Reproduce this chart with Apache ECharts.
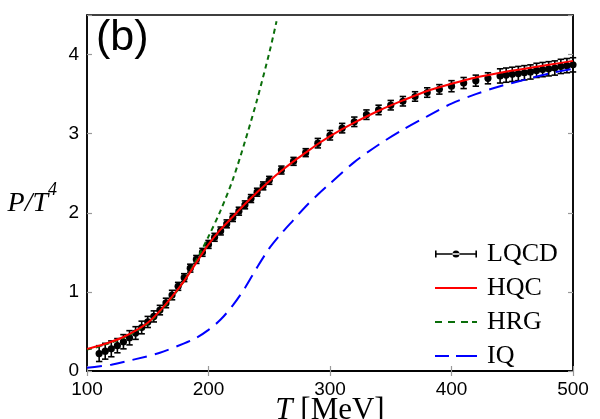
<!DOCTYPE html>
<html>
<head>
<meta charset="utf-8">
<script src="https://cdn.jsdelivr.net/npm/echarts@6/dist/echarts.min.js"></script>
<style>html,body{margin:0;padding:0;background:#fff}#c{width:600px;height:419px}</style>
</head>
<body>
<div id="c"></div>
<script>
// LQCD data (T in MeV, P/T^4, error)
const lqcdT = [110,115,120,125,130,135,140,145,150,155,160,165,170,175,180,185,190,195,200,205,210,215,220,225,230,235,240,245,250,260,270,280,290,300,310,320,330,340,350,360,370,380,390,400,410,420,430,440,445,450,455,460,465,470,475,480,485,490,495,500];
const lqcdP = [0.22,0.25,0.28,0.32,0.37,0.42,0.48,0.55,0.62,0.69,0.77,0.86,0.96,1.07,1.18,1.30,1.41,1.50,1.60,1.69,1.77,1.86,1.94,2.02,2.10,2.18,2.26,2.34,2.41,2.54,2.65,2.76,2.88,2.98,3.07,3.15,3.24,3.30,3.36,3.41,3.47,3.52,3.56,3.60,3.64,3.67,3.70,3.73,3.74,3.75,3.76,3.77,3.78,3.80,3.81,3.82,3.83,3.85,3.86,3.87];
const lqcdErr = [0.10,0.10,0.10,0.09,0.09,0.09,0.08,0.08,0.07,0.07,0.06,0.06,0.06,0.05,0.05,0.05,0.05,0.05,0.05,0.05,0.05,0.05,0.05,0.05,0.05,0.05,0.05,0.05,0.05,0.05,0.05,0.05,0.06,0.06,0.06,0.06,0.06,0.06,0.06,0.06,0.06,0.06,0.06,0.07,0.07,0.07,0.07,0.09,0.09,0.09,0.09,0.09,0.09,0.09,0.09,0.09,0.09,0.09,0.09,0.09];
// HQC curve
const hqcT = [100,110,120,130,140,150,160,170,180,190,200,210,220,230,240,250,260,270,280,290,300,320,340,360,380,400,420,440,460,480,500];
const hqcP = [0.28,0.32,0.37,0.43,0.51,0.61,0.76,0.94,1.14,1.37,1.60,1.79,1.95,2.11,2.26,2.40,2.53,2.65,2.76,2.87,2.97,3.14,3.29,3.42,3.54,3.63,3.71,3.77,3.82,3.87,3.92];
// HRG curve
const hrgT = [100,110,120,130,140,150,160,170,180,190,200,210,220,230,240,250,256];
const hrgP = [0.27,0.31,0.36,0.42,0.50,0.60,0.75,0.93,1.14,1.40,1.70,2.03,2.42,2.90,3.43,4.02,4.42];
// IQ curve
const iqT = [100,120,140,160,180,190,200,210,220,230,240,250,260,270,280,290,300,320,340,360,380,400,420,440,460,480,500];
const iqP = [0.04,0.08,0.15,0.23,0.35,0.42,0.52,0.65,0.83,1.05,1.31,1.55,1.74,1.91,2.08,2.23,2.37,2.64,2.86,3.05,3.22,3.38,3.50,3.60,3.68,3.76,3.82];
// tick labels
const xTicks = [100,200,300,400,500];
const yTicks = [0,1,2,3,4];

const zip = (a,b) => a.map((v,i)=>[v,b[i]]);
const lqcdData = lqcdT.map((t,i)=>[t,lqcdP[i],lqcdErr[i]]);

// legend icon shapes (42 x 8 box; corner specks fix the bounding box)
const box = 'M0,0h0.01v0.01h-0.01z M41.99,7.99h0.01v0.01h-0.01z ';
const iconLQCD = 'path://' + box + 'M0,3.2h42v1.6h-42z M0,0.5h1.6v7h-1.6z M40.4,0.5h1.6v7h-1.6z M17.5,4a3.5,3.5 0 1 0 7,0a3.5,3.5 0 1 0 -7,0z';
const iconHQC = 'path://' + box + 'M0,3h42v2h-42z';
const iconHRG = 'path://' + box + 'M0,3h7v2h-7z M13,3h7v2h-7z M26,3h7v2h-7z M37,3h5v2h-5z';
const iconIQ = 'path://' + box + 'M0,3h14v2h-14z M21,3h21v2h-21z';

const chart = echarts.init(document.getElementById('c'), null, {renderer:'canvas'});
const tickStyle = {show:true, inside:true, length:5, lineStyle:{color:'#999', width:1.2}};
const labelFont = {fontFamily:'Liberation Sans', fontSize:19, color:'#000'};
chart.setOption({
  animation:false,
  backgroundColor:'#fff',
  title:{text:'(b)', left:96, top:17, padding:0, textStyle:{fontFamily:'Liberation Sans', fontSize:43, fontWeight:'normal', color:'#000'}},
  grid:{left:87, right:27, top:15, bottom:48, show:true, borderColor:'#000', borderWidth:1.5, outerBoundsMode:'none', containLabel:false},
  legend:{
    orient:'vertical', left:435, top:241, padding:0, itemWidth:42, itemHeight:8, itemGap:8,
    symbolKeepAspect:false,
    textStyle:{fontFamily:'Liberation Serif', fontSize:26, color:'#000', padding:[0,0,0,5]},
    data:[
      {name:'LQCD', icon:iconLQCD, itemStyle:{color:'#000'}},
      {name:'HQC', icon:iconHQC, itemStyle:{color:'#ff0000'}},
      {name:'HRG', icon:iconHRG, itemStyle:{color:'#0a6e0a'}},
      {name:'IQ', icon:iconIQ, itemStyle:{color:'#0000ff'}}
    ]
  },
  xAxis:[
    {type:'value', min:100, max:500, interval:100, position:'bottom',
     axisLine:{show:true, lineStyle:{color:'#000', width:1.5}}, axisTick:tickStyle, splitLine:{show:false},
     axisLabel:Object.assign({margin:9, customValues:xTicks}, labelFont),
     name:'{i|T}{n| [MeV]}', nameLocation:'middle', nameGap:24, nameMoveOverlap:false,
     nameTextStyle:{color:'#000', rich:{i:{fontFamily:'Liberation Serif', fontStyle:'italic', fontSize:31, color:'#000'}, n:{fontFamily:'Liberation Serif', fontSize:31, color:'#000'}}}},
    {type:'value', min:100, max:500, interval:100, position:'top',
     axisLine:{show:true, lineStyle:{color:'#000', width:1.5}}, axisTick:tickStyle, axisLabel:{show:false}, splitLine:{show:false}}
  ],
  yAxis:[
    {type:'value', min:0, max:4.5, interval:1, position:'left',
     axisLine:{show:true, lineStyle:{color:'#000', width:1.5}}, axisTick:tickStyle, splitLine:{show:false},
     axisLabel:Object.assign({margin:8, customValues:yTicks}, labelFont),
     name:'{i|P/T}{s|4}', nameLocation:'middle', nameRotate:0, nameGap:30,
     nameTextStyle:{color:'#000', padding:[13,0,0,0], rich:{
       i:{fontFamily:'Liberation Serif', fontStyle:'italic', fontSize:28, color:'#000', verticalAlign:'bottom'},
       s:{fontFamily:'Liberation Serif', fontStyle:'italic', fontSize:18, color:'#000', verticalAlign:'top', padding:[0,0,18,0]}}}},
    {type:'value', min:0, max:4.5, interval:1, position:'right',
     axisLine:{show:true, lineStyle:{color:'#000', width:1.5}}, axisTick:tickStyle, axisLabel:{show:false}, splitLine:{show:false}}
  ],
  series:[
    {name:'LQCD', type:'custom', xAxisIndex:0, yAxisIndex:0, data:lqcdData, z:2,
     itemStyle:{color:'#000'},
     renderItem:function(params, api){
       const t = api.value(0), p = api.value(1), e = api.value(2);
       const top = api.coord([t, p+e]), bot = api.coord([t, p-e]), c = api.coord([t, p]);
       const hw = 3.2;
       const st = {stroke:'#000', lineWidth:1.6};
       return {type:'group', children:[
         {type:'line', shape:{x1:top[0], y1:top[1], x2:bot[0], y2:bot[1]}, style:st},
         {type:'line', shape:{x1:top[0]-hw, y1:top[1], x2:top[0]+hw, y2:top[1]}, style:st},
         {type:'line', shape:{x1:bot[0]-hw, y1:bot[1], x2:bot[0]+hw, y2:bot[1]}, style:st},
         {type:'circle', shape:{cx:c[0], cy:c[1], r:3.6}, style:{fill:'#000'}}
       ]};
     }},
    {name:'HRG', type:'line', data:zip(hrgT,hrgP), symbol:'none', showSymbol:false, smooth:0.3, z:3,
     lineStyle:{color:'#0a6e0a', width:2, type:[5,4]}, itemStyle:{color:'#0a6e0a'}},
    {name:'IQ', type:'line', data:zip(iqT,iqP), symbol:'none', showSymbol:false, smooth:0.3, z:3,
     lineStyle:{color:'#0000ff', width:2, type:[15,8]}, itemStyle:{color:'#0000ff'}},
    {name:'HQC', type:'line', data:zip(hqcT,hqcP), symbol:'none', showSymbol:false, smooth:0.3, z:4,
     lineStyle:{color:'#ff0000', width:2, type:'solid'}, itemStyle:{color:'#ff0000'}}
  ]
});
</script>
</body>
</html>
